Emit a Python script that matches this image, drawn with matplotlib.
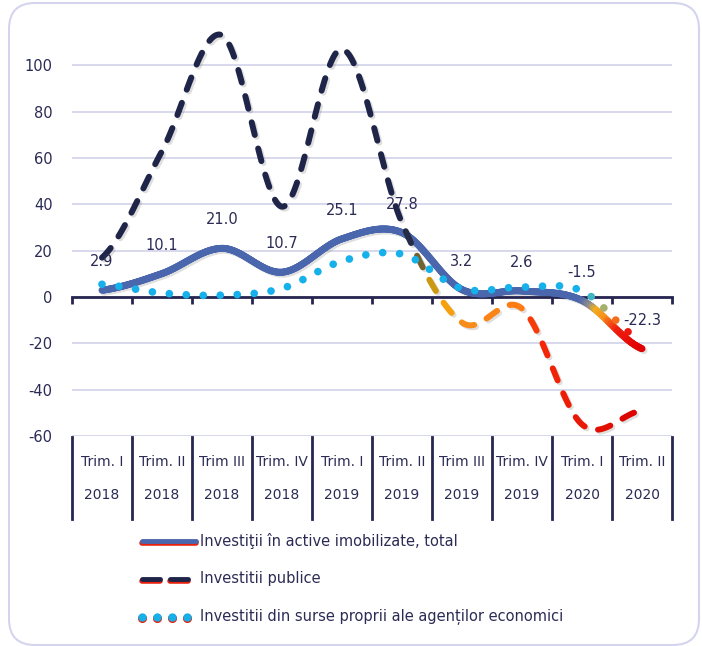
import numpy as np
import matplotlib.pyplot as plt
from matplotlib.collections import LineCollection
from matplotlib.colors import LinearSegmentedColormap
from matplotlib.lines import Line2D
from matplotlib.patches import FancyBboxPatch
from matplotlib.transforms import IdentityTransform, blended_transform_factory, offset_copy

plt.rcParams['axes.unicode_minus'] = False

# data
quarters = ['Trim. I', 'Trim. II', 'Trim III', 'Trim. IV', 'Trim. I', 'Trim. II',
            'Trim III', 'Trim. IV', 'Trim. I', 'Trim. II']
years = ['2018', '2018', '2018', '2018', '2019', '2019', '2019', '2019', '2020', '2020']
total = [2.9, 10.1, 21.0, 10.7, 25.1, 27.8, 3.2, 2.6, -1.5, -22.3]
public = [17, 63, 113, 39, 107, 32, -11, -5, -55, -49]
own = [5.5, 1.7, 0.8, 3.7, 15.5, 18.5, 3.6, 4.3, 2.6, -19]
legend_names = ['Investiţii în active imobilizate, total',
                'Investitii publice',
                'Investitii din surse proprii ale agenților economici']

NAVY = '#262650'
TXT = '#2b2b55'
GRID = '#d6d6ec'

W, H = 702, 646
fig = plt.figure(figsize=(W / 100, H / 100), dpi=100)


def fx(px):
    return px / W


def fy(py):
    return 1 - py / H


ax = fig.add_axes([fx(72), fy(436), fx(672) - fx(72), fy(19) - fy(436)])
ax.set_xlim(-0.5, 9.5)
ax.set_ylim(-60, 120)


def smooth(vals, n=80):
    # catmull-rom, like excel's smoothed line
    y = np.asarray(vals, float)
    p = np.concatenate([[y[0]], y, [y[-1]]])
    xs, ys = [], []
    for i in range(len(y) - 1):
        t = np.linspace(0, 1, n, endpoint=False)
        p0, p1, p2, p3 = p[i], p[i + 1], p[i + 2], p[i + 3]
        ys.append(0.5 * (2 * p1 + (-p0 + p2) * t + (2 * p0 - 5 * p1 + 4 * p2 - p3) * t ** 2
                         + (-p0 + 3 * p1 - 3 * p2 + p3) * t ** 3))
        xs.append(i + t)
    xs.append([len(y) - 1])
    ys.append([y[-1]])
    return np.concatenate(xs), np.concatenate(ys)


def grad(stops):
    return LinearSegmentedColormap.from_list('g', [(s / 9, c) for s, c in stops])


cm_total = grad([(0, '#4a66ad'), (8.0, '#4a66ad'), (8.15, '#8a8a90'), (8.25, '#f2b01e'),
                 (8.4, '#f7901e'), (8.6, '#f02010'), (9, '#e00000')])
cm_public = grad([(0, '#1f2548'), (5.1, '#1f2548'), (5.35, '#8a7428'), (5.6, '#f0b000'),
                  (5.9, '#f7901e'), (7.0, '#ff7a10'), (7.25, '#f52a08'), (9, '#d80000')])
cm_own = grad([(0, '#16b0ea'), (8.05, '#16b0ea'), (8.3, '#7cbf90'), (8.5, '#f7901e'),
               (8.75, '#f01e10'), (9, '#e00000')])

shadow = offset_copy(ax.transData, fig=fig, x=2, y=-2, units='dots')

# total - solid gradient line
xs, ys = smooth(total)
ax.plot(xs, ys, color='gray', alpha=0.25, lw=5, transform=shadow, zorder=2,
        solid_capstyle='round')
pts = np.column_stack([xs, ys])
segs = np.stack([pts[:-1], pts[1:]], axis=1)
lc = LineCollection(segs, colors=cm_total(xs[:-1] / 9), linewidths=5, zorder=3)
lc.set_capstyle('round')
ax.add_collection(lc)


def arc(xs, ys):
    d = ax.transData.transform(np.column_stack([xs, ys]))
    return np.concatenate([[0], np.cumsum(np.hypot(*np.diff(d, axis=0).T))])


# public - dashed gradient line
xs, ys = smooth(public)
s = arc(xs, ys)
dash_on, period = 13.0, 27.0
dashes, cols = [], []
k = 0
while k * period < s[-1]:
    a, b = k * period, min(k * period + dash_on, s[-1])
    ss = np.concatenate([[a], s[(s > a) & (s < b)], [b]])
    dx = np.interp(ss, s, xs)
    dy = np.interp(ss, s, ys)
    dashes.append(np.column_stack([dx, dy]))
    cols.append(cm_public(dx.mean() / 9))
    k += 1
lcs = LineCollection(dashes, colors='gray', alpha=0.25, linewidths=4.3,
                     transform=shadow, zorder=2)
lcs.set_capstyle('round')
ax.add_collection(lcs)
lcd = LineCollection(dashes, colors=cols, linewidths=4.3, zorder=4)
lcd.set_capstyle('round')
ax.add_collection(lcd)

# own sources - dotted gradient line
xs, ys = smooth(own)
s = arc(xs, ys)
sd = np.arange(0, s[-1] + 0.1, 17.0)
dx = np.interp(sd, s, xs)
dy = np.interp(sd, s, ys)
ax.scatter(dx, dy, s=30, c=cm_own(dx / 9), linewidths=0, zorder=5)

# value labels
for i, v in enumerate(total):
    ax.annotate(f'{v:.1f}', (i, v), xytext=(0, 20.5), textcoords='offset points',
                ha='center', va='center', fontsize=10.5, color=TXT, zorder=6)

# axes styling
for sp in ['top', 'right', 'left']:
    ax.spines[sp].set_visible(False)
ax.spines['bottom'].set_position(('data', 0))
ax.spines['bottom'].set_color(NAVY)
ax.spines['bottom'].set_linewidth(2)
ax.set_xticks(np.arange(-0.5, 10, 1))
ax.set_xticklabels([])
ax.tick_params(axis='x', length=5, width=2, color=NAVY)
ax.set_yticks(np.arange(-60, 101, 20))
ax.tick_params(axis='y', length=0, pad=14, labelsize=10.5, labelcolor=TXT)
ax.yaxis.grid(True, color=GRID, lw=1.3)
ax.set_axisbelow(True)

# category table under the plot
tr = blended_transform_factory(ax.transData, fig.transFigure)
for i in range(len(quarters)):
    fig.text(i, fy(462), quarters[i], transform=tr, ha='center', va='center',
             fontsize=10, color=TXT)
    fig.text(i, fy(495), years[i], transform=tr, ha='center', va='center',
             fontsize=10, color=TXT)
for k in range(11):
    xp = 72 + 60 * k
    fig.add_artist(Line2D([fx(xp), fx(xp)], [fy(437), fy(519)], color=NAVY, lw=2))

# legend drawn by hand
ly = [541, 579, 617]
fig.add_artist(Line2D([fx(142), fx(196)], [fy(ly[0] + 2), fy(ly[0] + 2)],
                      color='#e8200c', lw=4, solid_capstyle='round'))
fig.add_artist(Line2D([fx(142), fx(196)], [fy(ly[0]), fy(ly[0])],
                      color='#4a66ad', lw=3.5, solid_capstyle='round'))
for a, b in [(142, 160), (170, 188)]:
    fig.add_artist(Line2D([fx(a), fx(b)], [fy(ly[1] + 2), fy(ly[1] + 2)],
                          color='#e8200c', lw=4, solid_capstyle='round'))
    fig.add_artist(Line2D([fx(a), fx(b)], [fy(ly[1]), fy(ly[1])],
                          color='#1f2548', lw=3.5, solid_capstyle='round'))
for xp in [142, 157, 172, 187]:
    fig.add_artist(Line2D([fx(xp)], [fy(ly[2] + 1)], marker='o', ms=5.5,
                          color='#e8200c', lw=0))
    fig.add_artist(Line2D([fx(xp)], [fy(ly[2])], marker='o', ms=5,
                          color='#16b0ea', lw=0))
for y, name in zip(ly, legend_names):
    fig.text(fx(200), fy(y), name, ha='left', va='center', fontsize=10.5, color=TXT)

# rounded frame
frame = FancyBboxPatch((9, 1), 690, 642, boxstyle='round,pad=0,rounding_size=26',
                       transform=IdentityTransform(), fill=False, ec='#d4d4ee', lw=1.5)
fig.add_artist(frame)

fig.savefig('out.png', dpi=100)
